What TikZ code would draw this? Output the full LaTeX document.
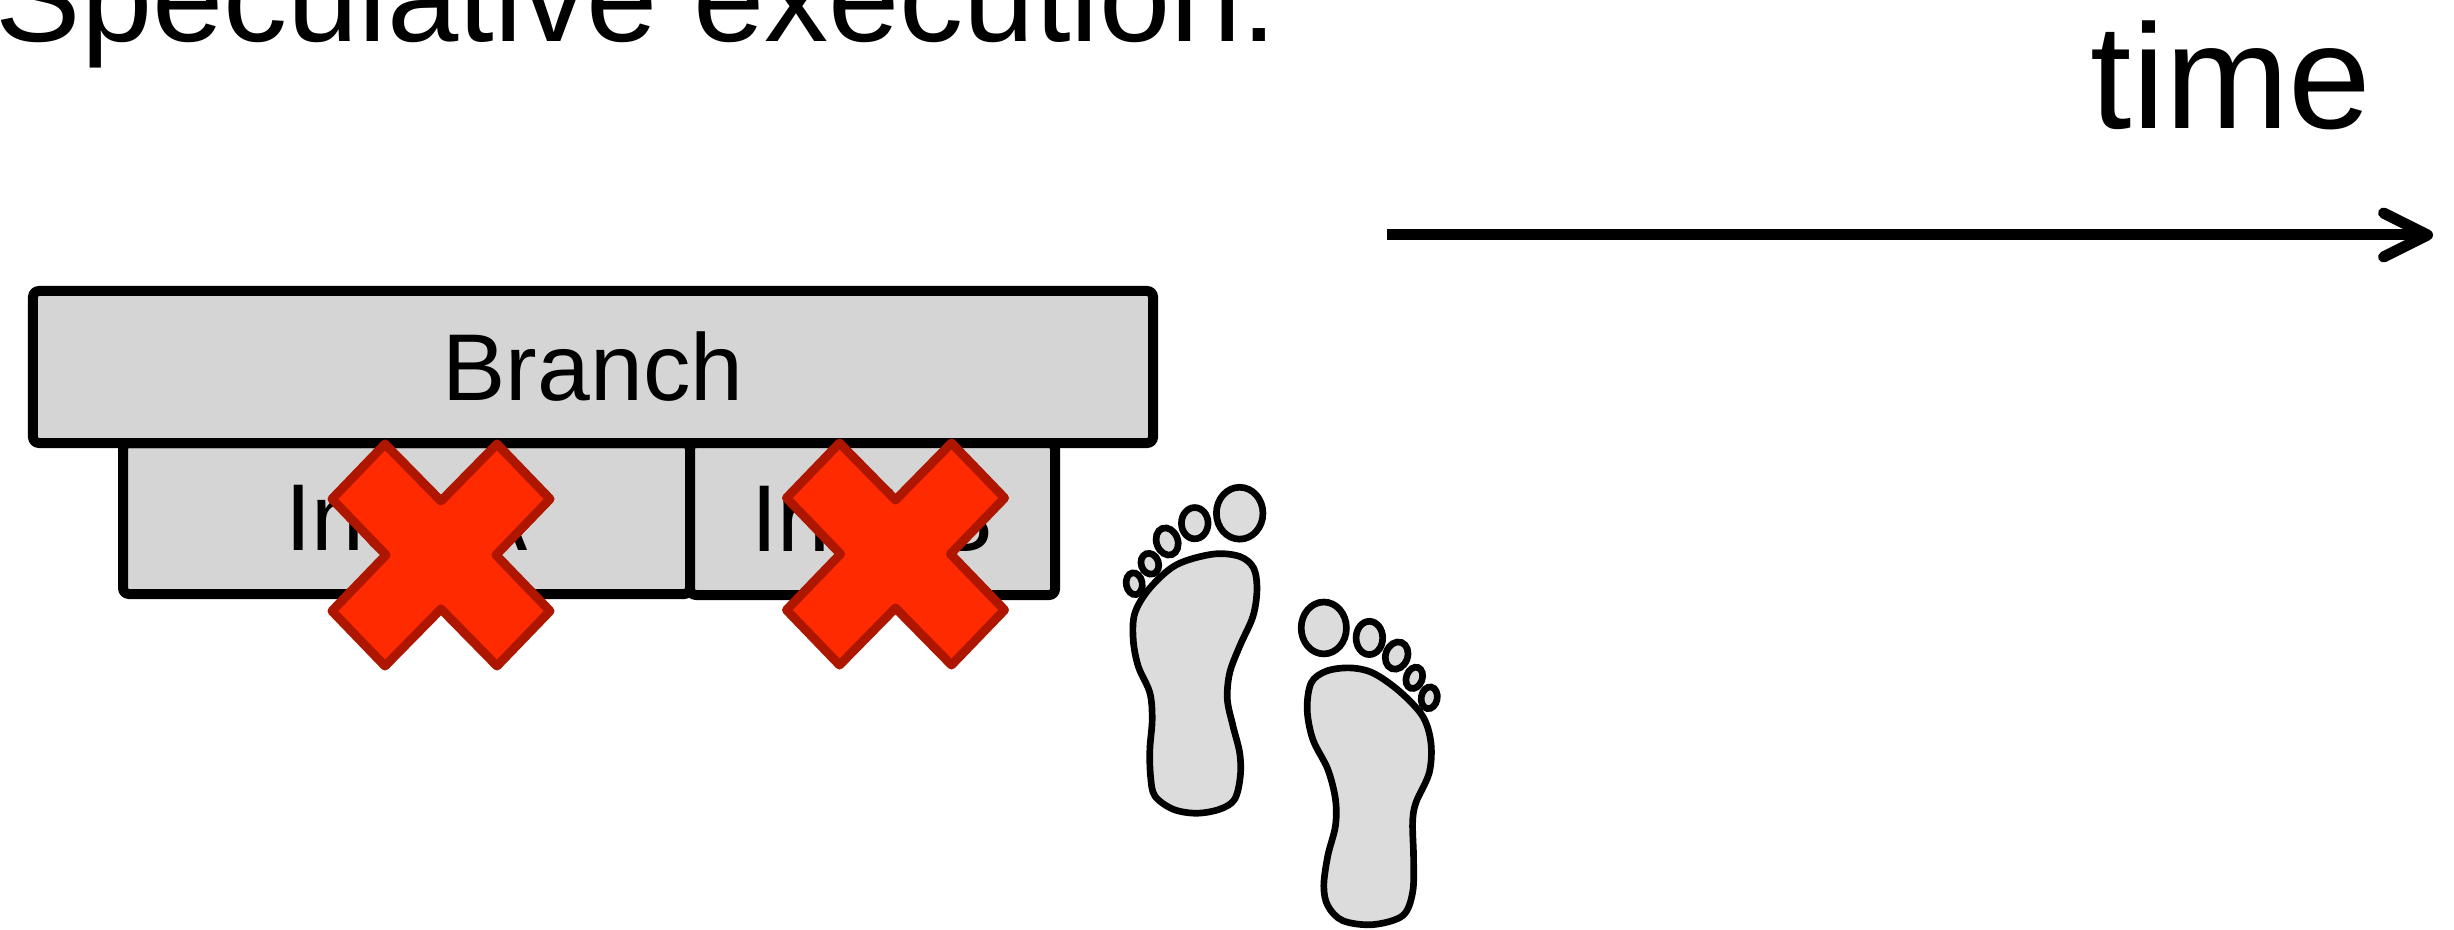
\documentclass[tikz,border=0pt]{standalone}
\usepackage{fontspec}
\setmainfont{Liberation Sans}
\usetikzlibrary{arrows.meta}
\definecolor{boxgray}{HTML}{D5D5D5}
\definecolor{footgray}{HTML}{DCDCDC}
\definecolor{xfill}{HTML}{FF2A00}
\definecolor{xline}{HTML}{AE1600}
\tikzset{
  instbox/.style={draw,line width=1mm,fill=boxgray,rounded corners=0.6mm,font=\fontsize{27}{30}\selectfont},
  footline/.style={draw=black,fill=footgray,line width=1.9pt},
  redx/.pic={
    \draw[fill=xfill,draw=xline,line width=0.9mm,line join=round]
      (-0.56,1.11) -- (0,0.54) -- (0.56,1.11) -- (1.09,0.56) -- (0.55,0) -- (1.09,-0.56)
      -- (0.56,-1.11) -- (0,-0.54) -- (-0.56,-1.11) -- (-1.09,-0.56) -- (-0.55,0) -- (-1.09,0.56) -- cycle;
  }
}
\begin{document}
\begin{tikzpicture}[>=Latex]
\useasboundingbox (0,0) rectangle (24.54,9.29);
\node[anchor=base west,inner sep=0pt,font=\fontsize{36.45}{40}\selectfont] (title) at (-0.05,8.87) {Speculative execution:};
\node[anchor=base west,inner sep=0pt,font=\fontsize{42.3}{46}\selectfont] (time) at (20.9,8.0) {time};
\coordinate (tstart) at (13.87,6.94);
\coordinate (tend) at (24.33,6.94);
\draw[-{Straight Barb[round,length=4.4mm,width=4.4mm]},line width=1.1mm] (tstart) -- (tend);
\node[instbox,minimum width=5.67cm,minimum height=1.51cm] (insta) at (4.065,4.105) {Inst A};
\node[instbox,minimum width=3.65cm,minimum height=1.52cm] (instb) at (8.725,4.10) {Inst B};
\node[instbox,minimum width=11.2cm,minimum height=1.52cm] (branch) at (5.93,5.62) {Branch};
\pic at (4.41,3.74) {redx};
\pic at (8.955,3.75) {redx};
% left foot
\begin{scope}[shift={(10.8,4.69)},x=0.00333cm,y=-0.00333cm]
\draw[footline] plot[smooth cycle,tension=0.55] coordinates {(400,283) (480,290) (522,325) (532,390) (520,470) (480,560) (450,640) (443,720) (460,800) (480,880) (482,950) (465,1020) (420,1050) (350,1062) (280,1050) (225,1010) (212,950) (210,870) (217,780) (210,700) (175,620) (160,540) (165,460) (210,385) (290,315)};
\foreach \cx/\cy/\rx/\ry/\ang in {480/160/70/78/0,345/190/40/47/0,262/245/32/42/20,210/312/26/32/20,163/372/24/33/10}
  \draw[footline] (\cx,\cy) circle[x radius=\rx,y radius=\ry,rotate=\ang];
\end{scope}
% right foot
\begin{scope}[shift={(10.8,4.69)},x=0.00333cm,y=-0.00333cm]
\draw[footline] plot[smooth cycle,tension=0.55] coordinates {(810,625) (880,640) (960,695) (1030,770) (1055,850) (1050,940) (1010,1030) (1000,1090) (1003,1200) (1000,1300) (970,1370) (880,1397) (790,1385) (745,1340) (733,1280) (745,1190) (768,1100) (768,1020) (745,930) (700,840) (683,750) (695,670) (740,635)};
\foreach \cx/\cy/\rx/\ry/\ang in {733/505/68/78/0,870/535/40/50/0,952/588/33/42/-20,1005/655/24/33/-20,1050/715/24/33/-10}
  \draw[footline] (\cx,\cy) circle[x radius=\rx,y radius=\ry,rotate=\ang];
\end{scope}
\end{tikzpicture}
\end{document}
